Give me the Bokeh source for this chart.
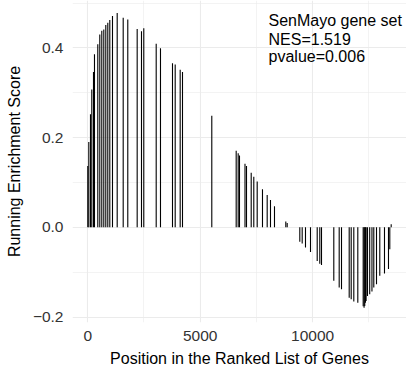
from bokeh.plotting import figure
from bokeh.models import FixedTicker, Range1d, Label
from bokeh.embed import file_html
from bokeh.resources import INLINE

# Running enrichment score at each gene-set hit (position in ranked list)
hit_positions = [0, 45, 120, 178, 254, 298, 445, 534, 623, 712, 801, 890, 979, 1099,
                 1308, 1575, 1779, 2197, 2389, 2491, 3043, 3234, 3768, 3888, 4110,
                 4213, 5516, 6601, 6690, 6748, 6993, 7060, 7269, 7384, 7536, 7771,
                 7980, 8127, 8305, 8808, 8870,
                 9431, 9537, 9684, 9907, 10205, 10320, 10396, 10943, 11183, 11286,
                 11628, 11717, 11833, 12011, 12250, 12290, 12320, 12350, 12380,
                 12440, 12540, 12640, 12722, 12843, 12989, 13198, 13376, 13434, 13496]
running_es = [0.137, 0.190, 0.252, 0.307, 0.346, 0.386, 0.408, 0.430, 0.438, 0.441,
              0.451, 0.456, 0.462, 0.471, 0.478, 0.467, 0.463, 0.442, 0.437, 0.444,
              0.409, 0.399, 0.366, 0.363, 0.351, 0.346, 0.249, 0.171, 0.165, 0.160,
              0.142, 0.137, 0.122, 0.113, 0.102, 0.085, 0.072, 0.061, 0.047, 0.013,
              0.010,
              -0.032, -0.036, -0.045, -0.055, -0.075, -0.081, -0.084, -0.119, -0.134,
              -0.138, -0.157, -0.160, -0.165, -0.168, -0.176, -0.179, -0.175, -0.168,
              -0.164, -0.153, -0.149, -0.143, -0.134, -0.127, -0.108, -0.103, -0.093,
              -0.049, 0.007]

x_ticks = [0, 5000, 10000]
x_minor = [2500, 7500, 12500]
y_ticks = [-0.2, 0.0, 0.2, 0.4]
y_minor = [-0.1, 0.1, 0.3, 0.5]
y_tick_labels = ["\u22120.2", "0.0", "0.2", "0.4"]

gene_set = "SenMayo gene set"
nes_text = "NES=1.519"
pval_text = "pvalue=0.006"

FONT = "Liberation Sans"

p = figure(width=406, height=374, output_backend="svg", toolbar_location=None,
           x_range=Range1d(-680, 14177), y_range=Range1d(-0.212, 0.5056),
           min_border_left=72, min_border_right=0, min_border_top=0,
           min_border_bottom=52)
p.outline_line_color = None
p.background_fill_color = "white"
p.border_fill_color = "white"

p.segment(x0=hit_positions, y0=[0] * len(hit_positions), x1=hit_positions,
          y1=running_es, line_color="black", line_width=1.1)

# axes
p.xaxis.ticker = FixedTicker(ticks=x_ticks, minor_ticks=x_minor)
p.yaxis.ticker = FixedTicker(ticks=y_ticks, minor_ticks=y_minor)
p.yaxis.major_label_overrides = {t: l for t, l in zip(y_ticks, y_tick_labels)}
for ax in (p.xaxis[0], p.yaxis[0]):
    ax.axis_line_color = None
    ax.major_tick_line_color = None
    ax.minor_tick_line_color = None
    ax.major_label_text_font = FONT
    ax.major_label_text_font_size = "15.5px"
    ax.major_label_text_color = "#333333"
    ax.axis_label_text_font = FONT
    ax.axis_label_text_font_size = "16px"
    ax.axis_label_text_font_style = "normal"
    ax.axis_label_text_color = "black"
p.xaxis.axis_label = "Position in the Ranked List of Genes"
p.yaxis.axis_label = "Running Enrichment Score"
p.xaxis.major_label_standoff = 2
p.xaxis.axis_label_standoff = 6
p.yaxis.major_label_standoff = 3
p.yaxis.axis_label_standoff = 7

for g in (p.xgrid[0], p.ygrid[0]):
    g.grid_line_color = "#EBEBEB"
    g.grid_line_width = 1.1
    g.minor_grid_line_color = "#EBEBEB"
    g.minor_grid_line_width = 0.6

for txt, yv in ((gene_set, 0.461), (nes_text, 0.418), (pval_text, 0.380)):
    p.add_layout(Label(x=8040, y=yv, text=txt, text_font=FONT,
                       text_font_size="16px", text_color="black",
                       text_baseline="alphabetic", text_align="left"))

open("out.html", "w").write(file_html(p, INLINE))
